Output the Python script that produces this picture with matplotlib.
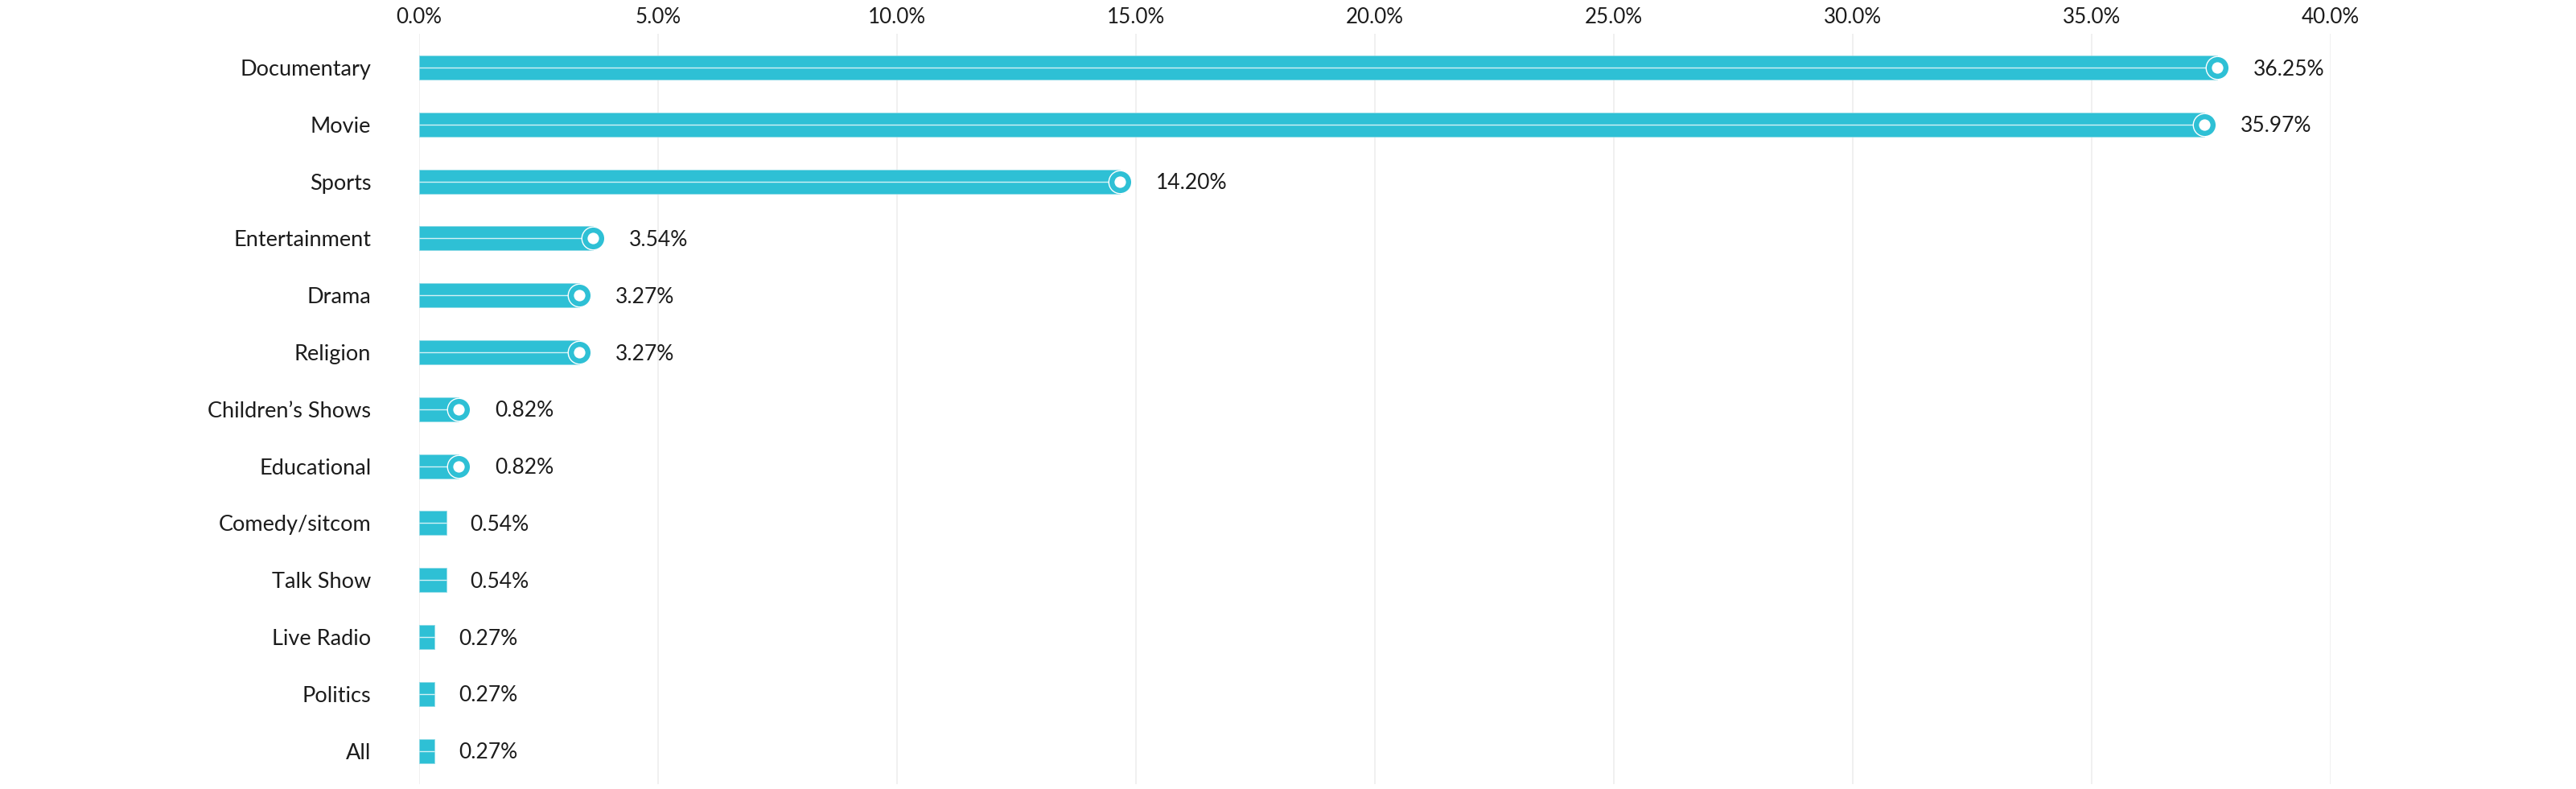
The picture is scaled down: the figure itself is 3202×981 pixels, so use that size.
import numpy as np
import matplotlib
matplotlib.use('Agg')
import matplotlib.pyplot as plt

# Share of content by genre
categories = ['Documentary', 'Movie', 'Sports', 'Entertainment', 'Drama', 'Religion',
              'Children\u2019s Shows', 'Educational', 'Comedy/sitcom', 'Talk Show',
              'Live Radio', 'Politics', 'All']
share_labels = ['36.25%', '35.97%', '14.20%', '3.54%', '3.27%', '3.27%',
                '0.82%', '0.82%', '0.54%', '0.54%', '0.27%', '0.27%', '0.27%']
# where each bar ends on the axis
bar_end = [37.62, 37.35, 14.66, 3.63, 3.35, 3.35, 0.83, 0.83, 0.57, 0.57, 0.32, 0.32, 0.32]
x_ticks = [0, 5, 10, 15, 20, 25, 30, 35, 40]

TEAL = '#2ec0d5'
TEXT = '#1c1c1c'

plt.rcParams['font.family'] = ['Lato', 'DejaVu Sans']

W, H = 3202, 981
fig = plt.figure(figsize=(W / 100, H / 100), dpi=100)
ax = fig.add_axes([521 / W, 1 - 975 / H, (2897 - 521) / W, (975 - 42) / H])

y = np.arange(len(categories))
ends = np.array(bar_end)

ax.barh(y, ends, height=0.424, color=TEAL, edgecolor='#8fdbe6', linewidth=0.6, zorder=2)
ax.hlines(y, 0, ends, color='white', alpha=0.8, linewidth=1.0, zorder=3)

# round caps only where the bar is long enough to hold one
cap = ends > 0.7
ax.scatter(ends[cap], y[cap], s=420, color=TEAL, edgecolor='white', linewidth=1.0,
           zorder=4, clip_on=False)
ax.scatter(ends[cap], y[cap], s=105, color='white', linewidth=0, zorder=5, clip_on=False)

for i in range(len(categories)):
    off = 32.5 if cap[i] else 21.5
    ax.annotate(share_labels[i], (ends[i], y[i]), xytext=(off, -1.5), textcoords='offset points',
                ha='left', va='center', fontsize=19, color=TEXT)

ax.set_xlim(0, 40)
ax.set_ylim(12.585, -0.593)
ax.set_xticks(x_ticks)
ax.set_xticklabels([f'{t:.1f}%' for t in x_ticks])
ax.xaxis.tick_top()
ax.tick_params(axis='x', length=0, pad=6, labelsize=18.7, labelcolor=TEXT)
ax.set_yticks(y)
ax.set_yticklabels(categories)
ax.tick_params(axis='y', length=0, pad=43, labelsize=19.5, labelcolor=TEXT)

ax.set_axisbelow(True)
ax.xaxis.grid(True, color='#f0f0f0', linewidth=1.4)
ax.yaxis.grid(False)
for s in ax.spines.values():
    s.set_visible(False)

fig.savefig('out.png', dpi=100, facecolor='white')
